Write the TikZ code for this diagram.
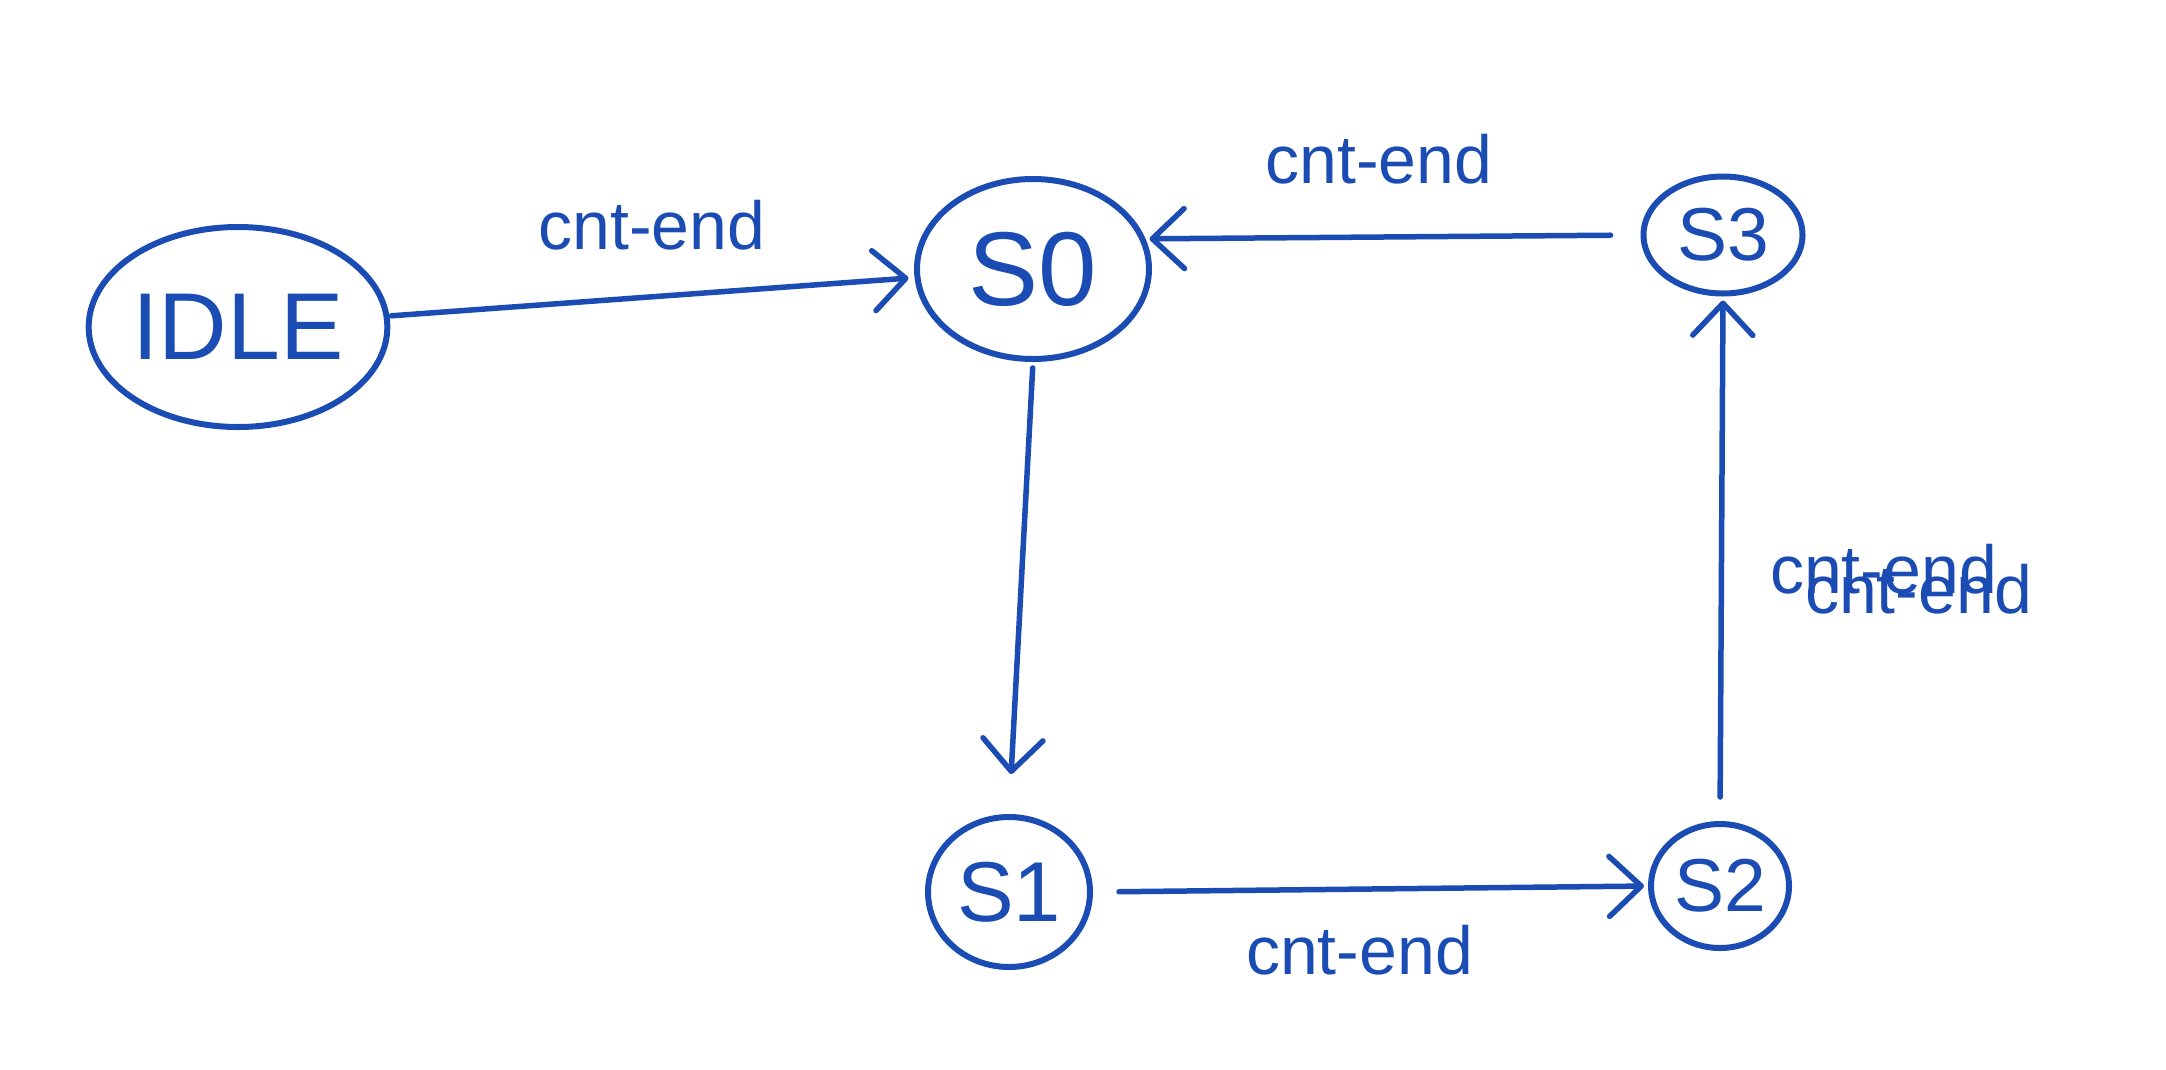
\documentclass[tikz,border=0pt]{standalone}
\usepackage{fontspec}
\setmainfont{Liberation Sans}
\usetikzlibrary{shapes.geometric,arrows.meta}
\definecolor{ink}{RGB}{26,76,180}
\begin{document}
\begin{tikzpicture}[x=1pt,y=-1pt,
  statenode/.style={ellipse,draw=ink,line width=6pt,inner sep=0pt,text=ink},
  edge/.style={draw=ink,line width=5.5pt,line cap=round,-{Straight Barb[length=32pt,width=60pt,round]}},
  lbl/.style={text=ink,font=\fontsize{68}{68}\selectfont,inner sep=0pt}]
\useasboundingbox[fill=white] (0,0) rectangle (2166,1069);

\node[statenode,minimum width=293pt,minimum height=200pt,font=\fontsize{95}{95}\selectfont] (IDLE) at (238,327) {IDLE};
\node[statenode,minimum width=232pt,minimum height=180pt,font=\fontsize{105}{105}\selectfont] (S0) at (1033,269) {S0};
\node[statenode,minimum width=159pt,minimum height=117pt,font=\fontsize{75}{75}\selectfont] (S3) at (1723,235) {S3};
\node[statenode,minimum width=162pt,minimum height=150pt,font=\fontsize{85}{85}\selectfont] (S1) at (1009,892) {S1};
\node[statenode,minimum width=138pt,minimum height=124pt,font=\fontsize{75}{75}\selectfont] (S2) at (1720,886) {S2};

\draw[edge,shorten <=2pt,shorten >=6pt] (IDLE) -- (S0)
  node[lbl,midway,yshift=72pt] (l1) {cnt-end};
\draw[edge,shorten <=30pt,shorten >=4pt] (S3.west) -- (S0.15)
  node[lbl,midway,xshift=-14pt,yshift=78pt] (l2) {cnt-end};
\draw[edge,shorten <=6pt,shorten >=40pt] (S0.south) -- (S1.north);
\draw[edge,shorten <=26pt,shorten >=4pt] (S1.east) -- (S2.west)
  node[lbl,midway,xshift=-11pt,yshift=-61pt] (l3) {cnt-end};
\draw[edge,shorten <=24pt,shorten >=4pt] (S2.north) -- (S3.south)
  node[lbl,midway,xshift=162pt,yshift=-10pt] (l4) {cnt-end}
  node[lbl,midway,xshift=197pt,yshift=-30pt] (l5) {cnt-end};
\end{tikzpicture}
\end{document}
